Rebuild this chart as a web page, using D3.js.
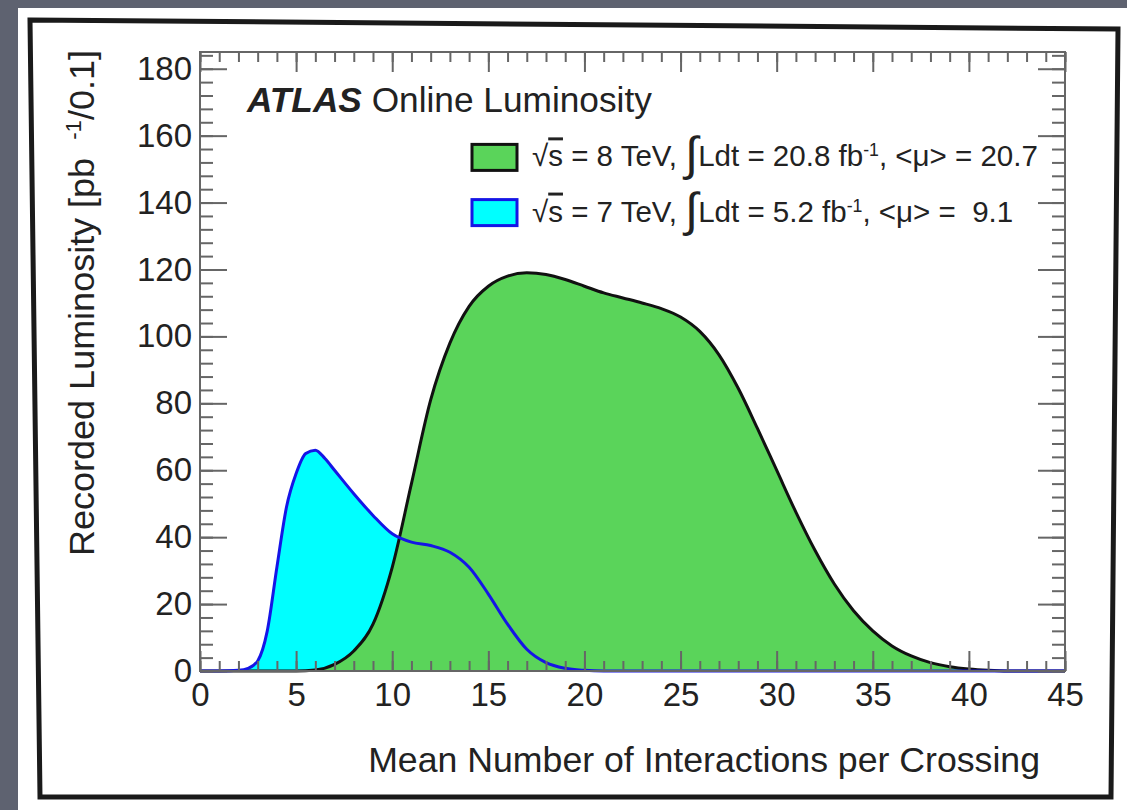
<!DOCTYPE html>
<html>
<head>
<meta charset="utf-8">
<script src="https://cdn.jsdelivr.net/npm/d3@7"></script>
<style>
  body { margin: 0; background: #5e6270; }
  svg { display: block; }
  text { font-family: "Liberation Sans", Arial, sans-serif; fill: #222; }
</style>
</head>
<body>
<svg id="chart" width="1127" height="810"></svg>
<script>
// 8 TeV (2012) recorded luminosity per 0.1 of <mu>
const muGreen = [0, 1, 2, 3, 4, 5, 6, 7, 8, 9, 10, 11, 12, 13, 14, 15, 16, 17, 18, 19, 20, 21, 22,
  23, 24, 25, 26, 27, 28, 29, 30, 31, 32, 33, 34, 35, 36, 37, 38, 39, 40, 41, 42, 43, 44, 45];
const lumiGreen = [0, 0, 0, 0, 0, 0, 0.3, 2, 6, 14, 31, 56, 81, 98, 109, 115, 118, 119, 118.5, 117, 115, 113, 111.5,
  110, 108.3, 105.8, 101.5, 94.5, 84.5, 72.5, 60, 47.5, 36, 26, 18, 12, 7.5, 4.5, 2.5, 1.3, 0.6, 0.2, 0, 0, 0, 0];

// 7 TeV (2011)
const muCyan = [0, 1, 2, 2.5, 3, 3.5, 4, 4.5, 5, 5.5, 6, 6.5, 7, 8, 9, 10, 11, 12, 13, 14, 15, 16, 17,
  18, 19, 20, 21, 25, 30, 35, 40, 45];
const lumiCyan = [0, 0, 0.2, 0.8, 3, 12, 31, 49, 59, 65, 66, 63.5, 60, 53, 46.5, 41, 38.5, 37.5, 35.5, 31, 23, 14, 6.5,
  2.5, 0.8, 0.2, 0, 0, 0, 0, 0, 0];

const xMajorTicks = [0, 5, 10, 15, 20, 25, 30, 35, 40, 45];
const yMajorTicks = [0, 20, 40, 60, 80, 100, 120, 140, 160, 180];
const xTitle = "Mean Number of Interactions per Crossing";

const svg = d3.select("#chart");

// slide background + black frame
svg.append("rect").attr("x", 18).attr("y", 8).attr("width", 1109).attr("height", 802).attr("fill", "#fff");
svg.append("path")
  .attr("d", "M30,20 L1118,29 L1111,797 L40,797 Z")
  .attr("fill", "none").attr("stroke", "#1a1a1a").attr("stroke-width", 5);

const margin = { left: 200, top: 52 };
const width = 865, height = 619;
const g = svg.append("g").attr("transform", `translate(${margin.left},${margin.top})`);

const x = d3.scaleLinear().domain([0, 45]).range([0, width]);
const y = d3.scaleLinear().domain([0, 185]).range([height, 0]);

const green = muGreen.map((m, i) => [m, lumiGreen[i]]);
const cyan = muCyan.map((m, i) => [m, lumiCyan[i]]);

const area = d3.area().x(d => x(d[0])).y0(y(0)).y1(d => y(d[1])).curve(d3.curveMonotoneX);
const line = d3.line().x(d => x(d[0])).y(d => y(d[1])).curve(d3.curveMonotoneX);

g.append("path").datum(cyan).attr("d", area).attr("fill", "#00ffff");
g.append("path").datum(green).attr("d", area).attr("fill", "#5ad45a");
g.append("path").datum(green).attr("d", line).attr("fill", "none").attr("stroke", "#111").attr("stroke-width", 3);
g.append("path").datum(cyan).attr("d", line).attr("fill", "none").attr("stroke", "#1515e6").attr("stroke-width", 3);

// axes with inward ticks like ROOT
function styleAxis(sel) {
  sel.select(".domain").remove();
  sel.selectAll("line").attr("stroke", "#666").attr("stroke-width", 2);
  sel.selectAll("text").attr("font-size", 33).attr("fill", "#222");
}
g.append("g").attr("transform", `translate(0,${height})`)
  .call(d3.axisBottom(x).tickValues(d3.range(0, 46, 1)).tickSize(-10).tickFormat("")).call(styleAxis);
g.append("g").attr("transform", `translate(0,${height})`)
  .call(d3.axisBottom(x).tickValues(xMajorTicks).tickSizeInner(-20).tickSizeOuter(0).tickPadding(12)).call(styleAxis);
g.append("g")
  .call(d3.axisTop(x).tickValues(d3.range(0, 46, 1)).tickSize(-10).tickFormat("")).call(styleAxis);
g.append("g")
  .call(d3.axisTop(x).tickValues(xMajorTicks).tickSize(-20).tickFormat("")).call(styleAxis);
g.append("g")
  .call(d3.axisLeft(y).tickValues(d3.range(0, 185, 4)).tickSize(-13).tickFormat("")).call(styleAxis);
g.append("g")
  .call(d3.axisLeft(y).tickValues(yMajorTicks).tickSizeInner(-27).tickSizeOuter(0).tickPadding(8)).call(styleAxis);
g.append("g").attr("transform", `translate(${width},0)`)
  .call(d3.axisRight(y).tickValues(d3.range(0, 185, 4)).tickSize(-13).tickFormat("")).call(styleAxis);
g.append("g").attr("transform", `translate(${width},0)`)
  .call(d3.axisRight(y).tickValues(yMajorTicks).tickSize(-27).tickFormat("")).call(styleAxis);

g.append("rect").attr("width", width).attr("height", height)
  .attr("fill", "none").attr("stroke", "#666").attr("stroke-width", 2);

// fit a text element to a target length by scaling its font size
function fit(t, len) {
  const k = len / t.node().getComputedTextLength();
  t.attr("font-size", +t.attr("font-size") * k);
  return k;
}

// axis titles
const xt = svg.append("text").attr("x", 1040).attr("y", 772).attr("text-anchor", "end")
  .attr("font-size", 35).text(xTitle);
fit(xt, 672);

const yt = svg.append("text").attr("transform", "translate(94,50) rotate(-90)")
  .attr("text-anchor", "end").attr("font-size", 35).attr("xml:space", "preserve");
yt.append("tspan").text("Recorded Luminosity [pb ");
yt.append("tspan").attr("font-size", "62%").attr("dx", 8).attr("dy", -13).text("-1");
yt.append("tspan").attr("dy", 13).text("/0.1]");
fit(yt, 498);

// ATLAS label
const at = svg.append("text").attr("x", 247).attr("y", 112).attr("font-size", 35);
at.append("tspan").attr("font-weight", "bold").attr("font-style", "italic").text("ATLAS");
at.append("tspan").text(" Online Luminosity");
fit(at, 405);

// legend
const legendItems = [
  { fill: "#5ad45a", stroke: "#111", e: "8", lumi: "20.8", mu: "20.7", yv: 153.5 },
  { fill: "#00ffff", stroke: "#1515e6", e: "7", lumi: "5.2", mu: " 9.1", yv: 137 }
];
let legendScale = 1;
legendItems.forEach((d, i) => {
  const cy = margin.top + y(d.yv);
  svg.append("rect").attr("x", 472).attr("y", cy - 13).attr("width", 45).attr("height", 26)
    .attr("fill", d.fill).attr("stroke", d.stroke).attr("stroke-width", 3);
  const t = svg.append("text").attr("x", 532).attr("y", cy + 9).attr("font-size", 1)
    .attr("xml:space", "preserve");
  t.append("tspan").text("\u221A");
  t.append("tspan").style("text-decoration", "overline").text("s");
  t.append("tspan").text(` = ${d.e} TeV, `);
  t.append("tspan").attr("font-size", "160%").attr("dy", 4).text("\u222B");
  t.append("tspan").attr("dy", -4).text(`Ldt = ${d.lumi} fb`);
  t.append("tspan").attr("font-size", "60%").attr("dy", -10).text("-1");
  t.append("tspan").attr("dy", 10).text(`, <\u03BC> = ${d.mu}`);
  t.attr("font-size", 25);
  if (i === 0) legendScale = fit(t, 506);
  else t.attr("font-size", 25 * legendScale);
});
</script>
</body>
</html>
